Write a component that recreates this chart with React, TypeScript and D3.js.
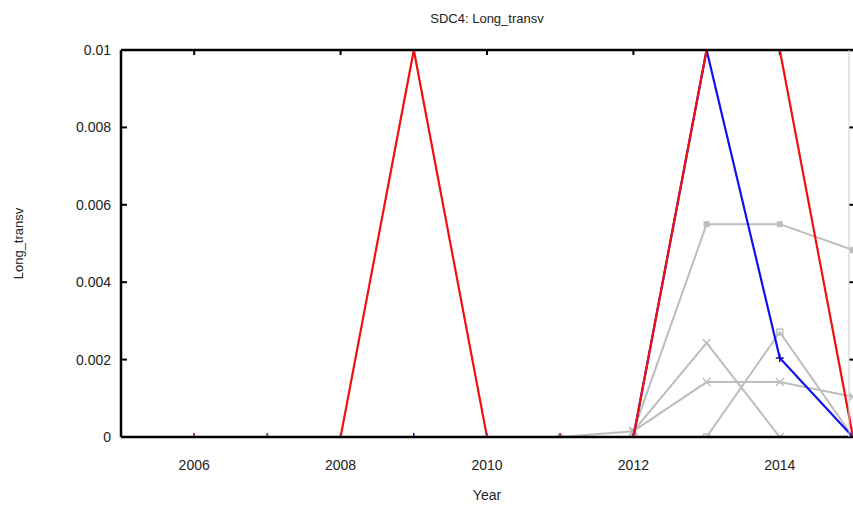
import React from "react";
import * as d3 from "d3";

const years = [2005, 2006, 2007, 2008, 2009, 2010, 2011, 2012, 2013, 2014, 2015];
const redValues = [0, 0, 0, 0, 0.01, 0, 0, 0, 0.01, 0.01, 0];
const blueValues = [0, 0, 0, 0, 0, 0, 0, 0, 0.01, 0.00204, 0];

const gray1Years = [2011, 2012, 2013, 2014, 2015];
const gray1Values = [0, 0.00015, 0.0055, 0.0055, 0.00483];
const gray2Years = [2012, 2013, 2014, 2015];
const gray2Values = [0.00015, 0.00243, 0, 0];
const gray3Years = [2012, 2013, 2014, 2015];
const gray3Values = [0.00015, 0.00142, 0.00142, 0.00104];
const gray4Years = [2012, 2013, 2014, 2015];
const gray4Values = [0, 0, 0.00271, 0];

const xTicks = [2006, 2008, 2010, 2012, 2014];
const xMinorTicks = [2006, 2008, 2010, 2012, 2014];
const yTicks = [0, 0.002, 0.004, 0.006, 0.008, 0.01];
const yTickLabels = ["0", "0.002", "0.004", "0.006", "0.008", "0.01"];

const W = 853, H = 509;
const L = 121, R = 853, T = 50, B = 437;

export default function App() {
  const x = d3.scaleLinear().domain([2005, 2015]).range([L, R]);
  const y = d3.scaleLinear().domain([0, 0.01]).range([B, T]);
  const line = d3.line<[number, number]>().x(d => x(d[0])).y(d => y(d[1]));
  const mk = (ys: number[], vs: number[]) => ys.map((yr, i) => [yr, vs[i]] as [number, number]);

  const grays = [
    { pts: mk(gray1Years, gray1Values), marker: "fsquare" },
    { pts: mk(gray2Years, gray2Values), marker: "x" },
    { pts: mk(gray3Years, gray3Values), marker: "x" },
    { pts: mk(gray4Years, gray4Values), marker: "osquare" },
  ];
  const red = mk(years, redValues);
  const blue = mk(years, blueValues);
  const font = "'Liberation Sans', Arial, sans-serif";

  const marker = (type: string, px: number, py: number, color: string, key: string) => {
    if (type === "fsquare") return <rect key={key} x={px - 3} y={py - 3} width={6} height={6} fill={color} />;
    if (type === "osquare") return <rect key={key} x={px - 3} y={py - 3} width={6} height={6} fill="none" stroke={color} strokeWidth={1.5} />;
    if (type === "x") return <path key={key} d={`M${px - 4},${py - 4}L${px + 4},${py + 4}M${px - 4},${py + 4}L${px + 4},${py - 4}`} stroke={color} strokeWidth={1.5} />;
    return <path key={key} d={`M${px - 4},${py}L${px + 4},${py}M${px},${py - 4}L${px},${py + 4}`} stroke={color} strokeWidth={1.5} />;
  };

  return (
    <svg width={W} height={H} style={{ position: "absolute", left: 0, top: 0, background: "#fff" }} fontFamily={font}>
      <defs>
        <clipPath id="plot"><rect x={L} y={T - 1} width={R - L + 2} height={B - T + 2} /></clipPath>
      </defs>
      <text x={487} y={23} textAnchor="middle" fontSize={13} fill="#222">SDC4: Long_transv</text>
      <text transform={`translate(23,${(T + B) / 2}) rotate(-90)`} textAnchor="middle" fontSize={13} fill="#222">Long_transv</text>
      <text x={487} y={500} textAnchor="middle" fontSize={14} fill="#222">Year</text>

      {yTicks.map((t, i) => (
        <g key={"y" + i}>
          <text x={111} y={y(t) + 5} textAnchor="end" fontSize={14} fill="#222">{yTickLabels[i]}</text>
          <line x1={L} x2={L + 6} y1={y(t)} y2={y(t)} stroke="#000" strokeWidth={2} />
          <line x1={R - 4} x2={R} y1={y(t)} y2={y(t)} stroke="#000" strokeWidth={2} />
        </g>
      ))}
      {xTicks.map((t, i) => (
        <text key={"x" + i} x={x(t)} y={470} textAnchor="middle" fontSize={14} fill="#222">{t}</text>
      ))}
      {xMinorTicks.map((t, i) => (
        <g key={"xt" + i}>
          <line x1={x(t)} x2={x(t)} y1={T} y2={T + 5} stroke="#000" strokeWidth={2} />
        </g>
      ))}

      <g clipPath="url(#plot)">
        {grays.map((g, i) => (
          <g key={"g" + i}>
            <path d={line(g.pts) || ""} fill="none" stroke="#bdbdbd" strokeWidth={2} />
            {g.pts.map((p, j) => marker(g.marker, x(p[0]), y(p[1]), "#bdbdbd", `gm${i}-${j}`))}
          </g>
        ))}
        <path d={line(blue) || ""} fill="none" stroke="#1010f0" strokeWidth={2.2} />
        {blue.map((p, j) => marker("plus", x(p[0]), y(p[1]), "#1010a0", `bm${j}`))}
        <path d={line(red) || ""} fill="none" stroke="#f01010" strokeWidth={2.2} />
        {red.map((p, j) => p[1] === 0 ? marker("plus", x(p[0]), y(p[1]), "#a04050", `rm${j}`) : null)}
      </g>

      <line x1={L} x2={R} y1={T} y2={T} stroke="#000" strokeWidth={2.5} />
      <line x1={L} x2={R} y1={B} y2={B} stroke="#000" strokeWidth={2.5} />
      <line x1={L} x2={L} y1={T} y2={B} stroke="#000" strokeWidth={2.5} />
      <line x1={R - 4} x2={R - 4} y1={T} y2={B} stroke="#ccc" strokeWidth={1} />
    </svg>
  );
}
